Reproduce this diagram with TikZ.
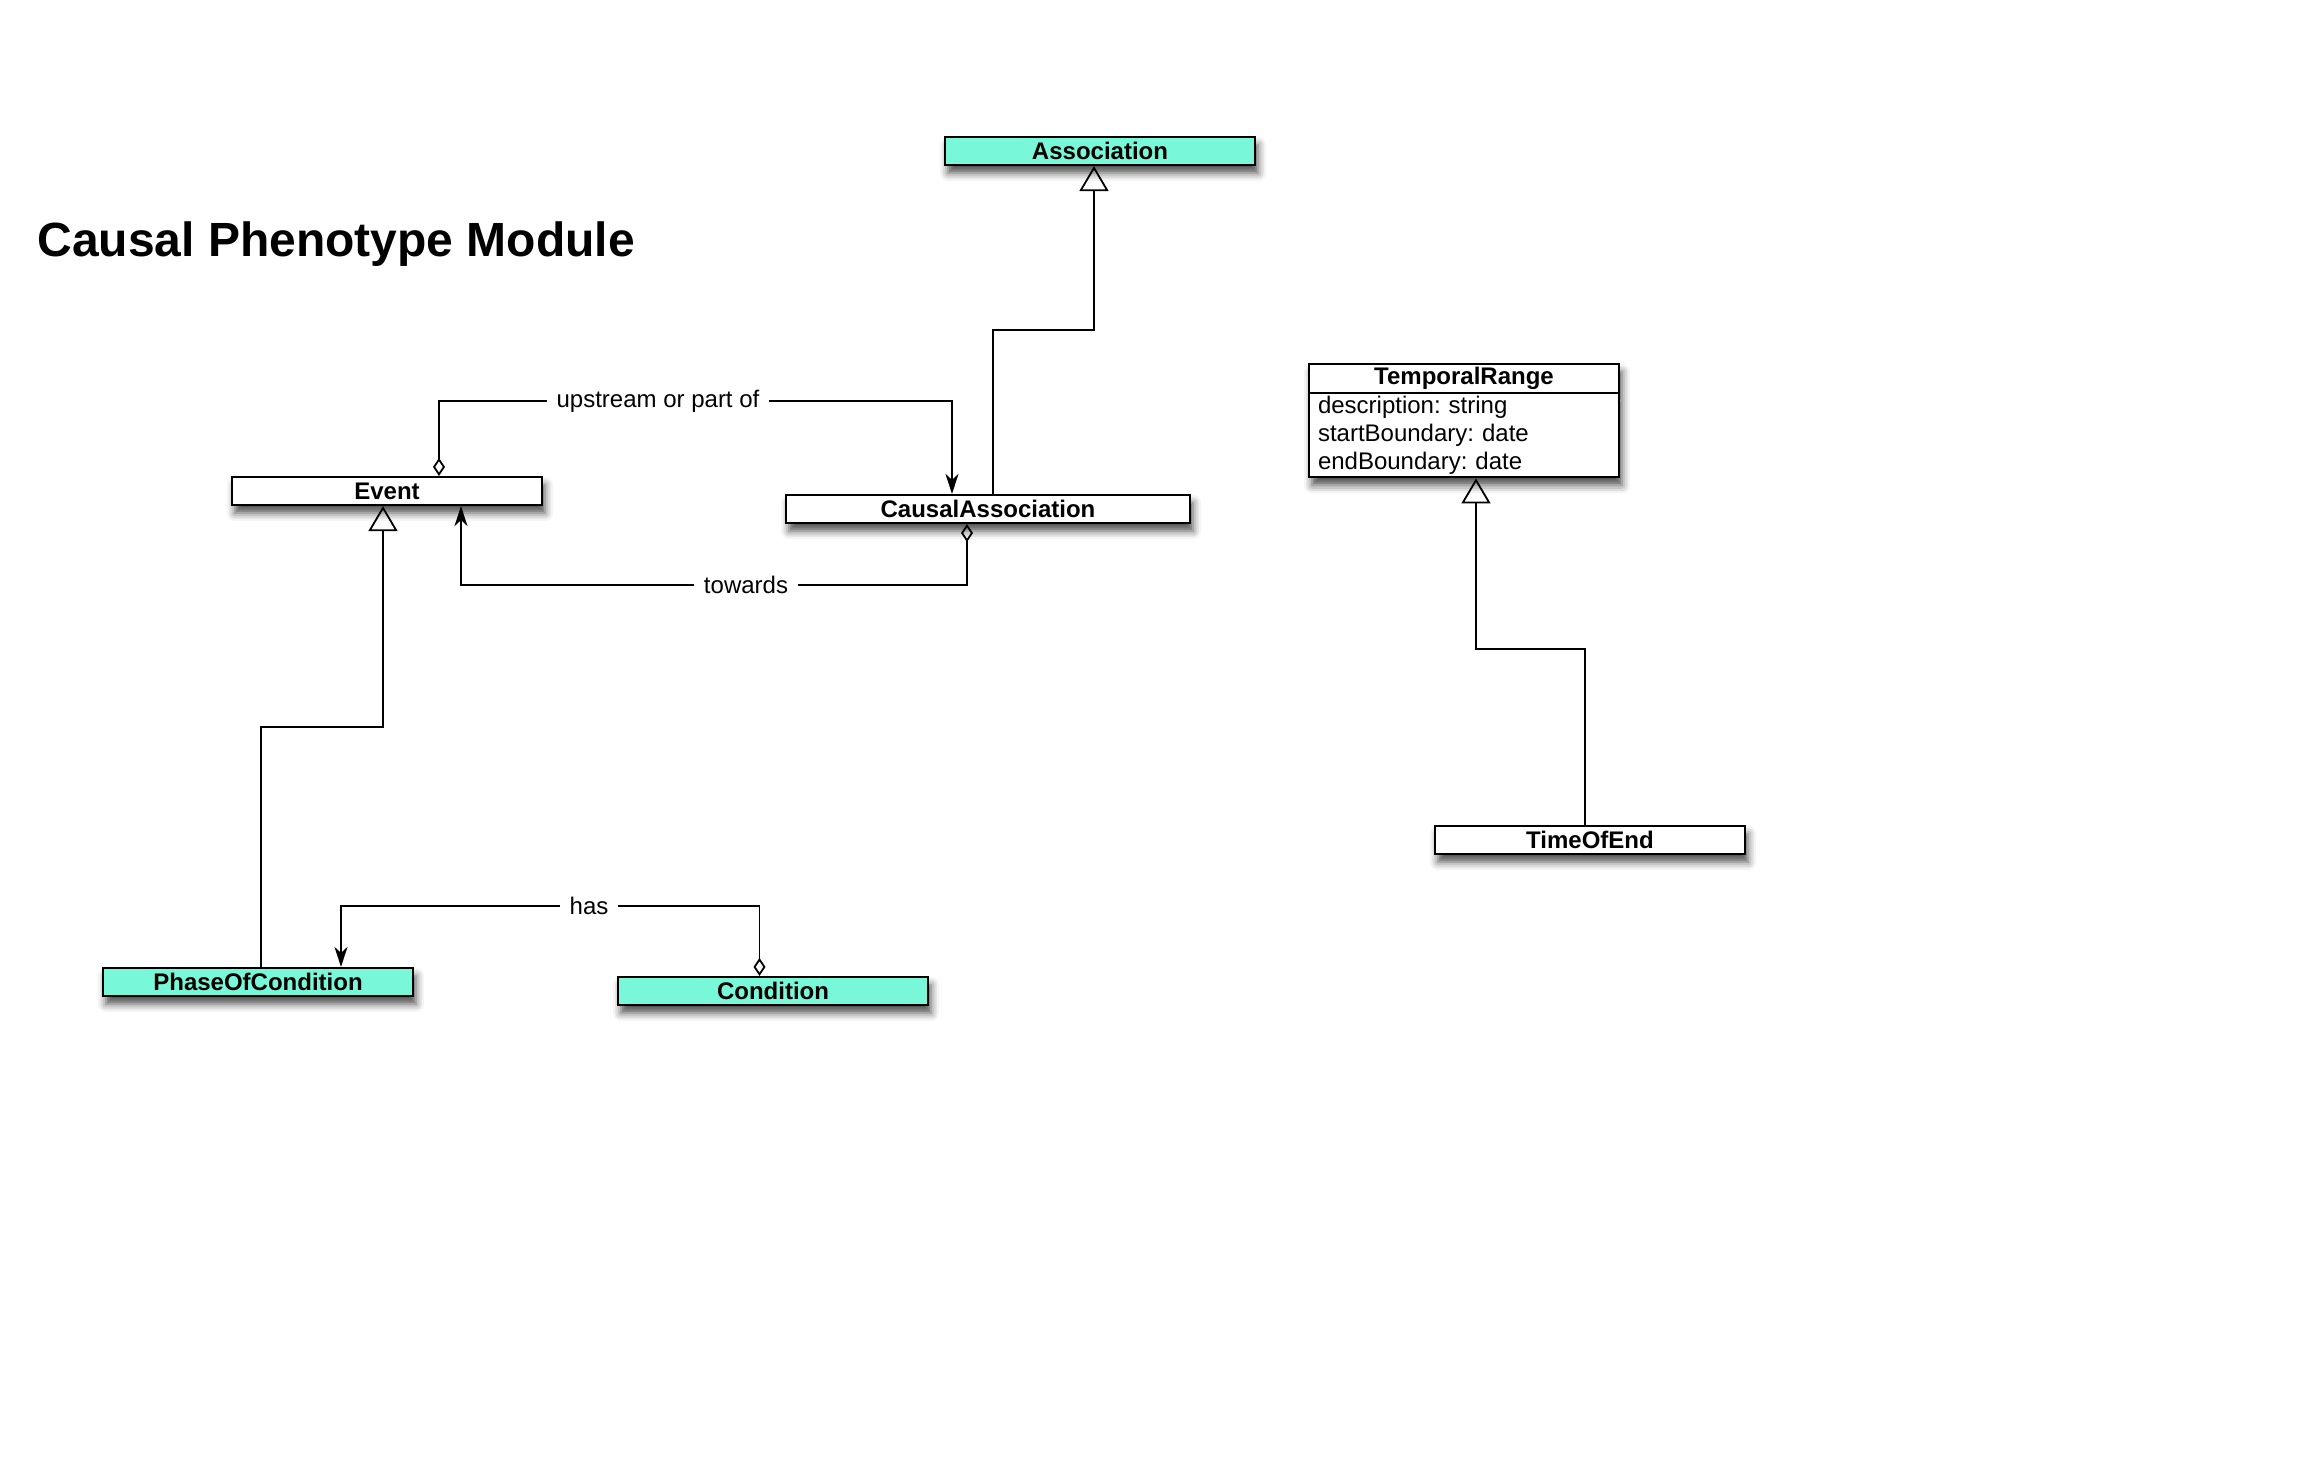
\documentclass[tikz,border=0pt]{standalone}
\usepackage{fontspec}
\setmainfont{Liberation Sans}
\frenchspacing
\usetikzlibrary{arrows.meta, shadows.blur, shapes.multipart}
\definecolor{classmint}{HTML}{78F8D8}
\tikzset{
  classnode/.style={draw=black, line width=1.1pt, fill=white,
    minimum width=155pt, minimum height=14pt, inner sep=1pt,
    font=\fontsize{12}{14}\selectfont\bfseries,
    blur shadow={shadow xshift=1.5pt, shadow yshift=-4pt,
                 shadow blur radius=4pt, shadow opacity=70}},
  gen/.style={-{Triangle[open, length=12.5pt, width=14.5pt]}, line width=0.9pt},
  aggr/.style={{Diamond[open, length=9pt, width=6pt]}-{Stealth[length=10pt, width=6.5pt, inset=3pt]},
               line width=0.9pt},
  lbl/.style={fill=white, inner xsep=5pt, inner ysep=2pt, font=\fontsize{12}{14}\selectfont}
}
\newcommand{\classbox}[4]{%
  \node[classnode, fill=#3] (#1) at (#2) {#4};}

\begin{document}
\begin{tikzpicture}[x=0.5pt, y=-0.5pt]
  \useasboundingbox (0,0) rectangle (2304,1466);
  \node[anchor=west, inner sep=0pt, font=\fontsize{24}{28}\selectfont\bfseries]
    (title) at (37,244) {Causal Phenotype Module};

  \classbox{association}{1100,151}{classmint}{Association}
  \node[classnode, minimum width=202pt] (causal) at (988,509) {CausalAssociation};
  \classbox{event}{387,491}{white}{Event}
  \classbox{phase}{258,982}{classmint}{PhaseOfCondition}
  \classbox{condition}{773,991}{classmint}{Condition}
  \classbox{timeofend}{1590,840}{white}{TimeOfEnd}
  \node[classnode, rectangle split, rectangle split parts=2, text width=146pt,
        align=left, inner xsep=4.5pt, anchor=north] (temporal) at (1464,363)
    {\makebox[146pt][c]{TemporalRange}
     \nodepart{two}\mdseries description: string\\startBoundary: date\\endBoundary: date};

  % is-a links
  \draw[gen] ([xshift=2.5pt]causal.north) |- (1050,330) -| ([xshift=-3pt]association.south);
  \draw[gen] ([xshift=1.5pt]phase.north) |- (320,727) -| ([xshift=-2pt]event.south);
  \draw[gen] ([xshift=-2.5pt]timeofend.north) |- (1530,649) -| ([xshift=6pt]temporal.south);

  % slots
  \draw[aggr] ([xshift=26pt]event.north) |- (658,401) node[lbl] (lupstream) {upstream or part of}
    -| ([xshift=-18pt]causal.north);
  \draw[aggr] ([xshift=-10.5pt]causal.south) |- (746,585) node[lbl] (ltowards) {towards}
    -| ([xshift=37pt]event.south);
  \draw[aggr] ([xshift=-6.75pt]condition.north) |- (589,906) node[lbl] (lhas) {has}
    -| ([xshift=41.5pt]phase.north);
\end{tikzpicture}
\end{document}
